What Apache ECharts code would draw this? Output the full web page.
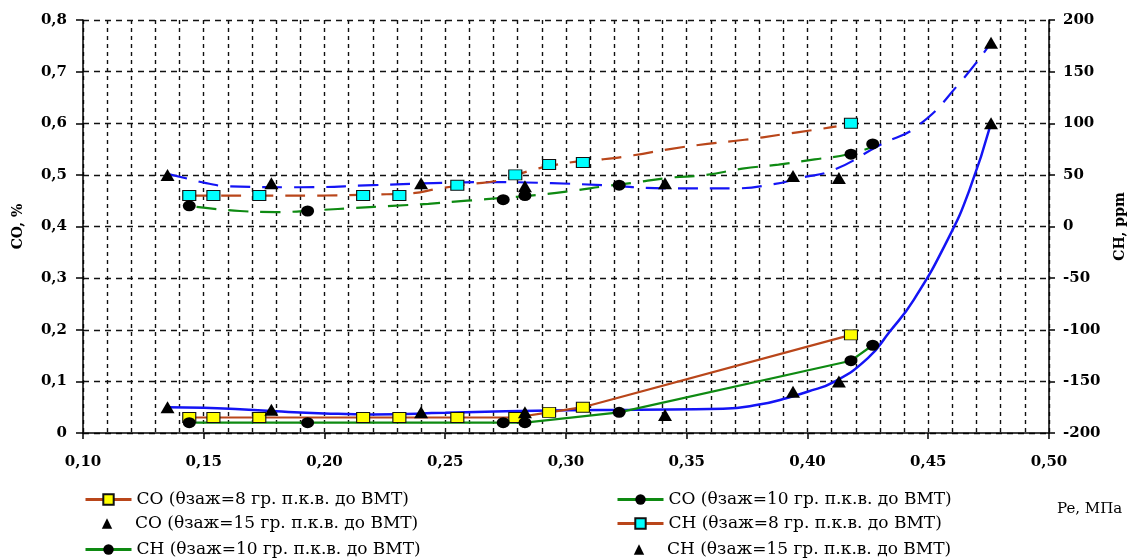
<!DOCTYPE html>
<html>
<head>
<meta charset="utf-8">
<script src="https://cdn.jsdelivr.net/npm/echarts@6/dist/echarts.min.js"></script>
<style>
html,body{margin:0;padding:0;background:#fff;}
#chart{width:1141px;height:559px;}
</style>
</head>
<body>
<div id="chart"></div>
<script>
// ---- data ----
const xTheta8 = [0.144, 0.154, 0.173, 0.216, 0.231, 0.255, 0.279, 0.293, 0.307, 0.418];
const co8 = [0.03, 0.03, 0.03, 0.03, 0.03, 0.03, 0.03, 0.04, 0.05, 0.19];
const ch8 = [30, 30, 30, 30, 30, 40, 50, 60, 62, 100];

const xTheta10 = [0.144, 0.193, 0.274, 0.283, 0.322, 0.418, 0.427];
const co10 = [0.02, 0.02, 0.02, 0.02, 0.04, 0.14, 0.17];
const ch10 = [20, 15, 26, 30, 40, 70, 80];

const xTheta15 = [0.135, 0.178, 0.240, 0.283, 0.341, 0.394, 0.413, 0.476];
const co15 = [0.05, 0.045, 0.04, 0.04, 0.035, 0.08, 0.10, 0.60];
const ch15 = [50, 42, 42, 39, 42, 49, 47, 178];

// trend lines
const coFit15X = [0.135, 0.150, 0.165, 0.180, 0.200, 0.220, 0.250, 0.275, 0.300, 0.330, 0.365, 0.380, 0.390, 0.400, 0.411, 0.425, 0.434, 0.444, 0.458, 0.467, 0.476];
const coFit15Y = [0.050, 0.049, 0.046, 0.042, 0.038, 0.036, 0.039, 0.042, 0.044, 0.045, 0.047, 0.055, 0.066, 0.080, 0.099, 0.145, 0.196, 0.258, 0.374, 0.470, 0.600];

const chFit15X = [0.135, 0.144, 0.151, 0.160, 0.190, 0.220, 0.245, 0.270, 0.294, 0.315, 0.342, 0.370, 0.386, 0.397, 0.411, 0.430, 0.446, 0.463, 0.476];
const chFit15Y = [51, 46, 42, 39, 38, 40, 42, 43, 42, 40, 37, 37, 41, 47, 55, 79, 98, 139, 178];

const chFit8X = [0.144, 0.170, 0.200, 0.220, 0.235, 0.248, 0.260, 0.273, 0.285, 0.294, 0.305, 0.315, 0.328, 0.343, 0.3585, 0.374, 0.389, 0.404, 0.412];
const chFit8Y = [30, 30, 30, 31, 32, 37, 41, 45, 54, 59, 63, 65, 69, 75, 80, 84, 89, 94, 97];

const chFit10X = [0.147, 0.165, 0.180, 0.198, 0.213, 0.228, 0.243, 0.259, 0.275, 0.290, 0.304, 0.316, 0.327, 0.342, 0.358, 0.373, 0.388, 0.403, 0.417, 0.429];
const chFit10Y = [19, 15, 14, 16, 18, 20, 22, 25, 28, 31, 35, 39, 42, 47, 50, 56, 60, 65, 70, 79];

const names = {
  co8: 'CO (θзаж=8 гр. п.к.в. до ВМТ)',
  co10: 'CO (θзаж=10 гр. п.к.в. до ВМТ)',
  co15: 'CO (θзаж=15 гр. п.к.в. до ВМТ)',
  ch8: 'CH (θзаж=8 гр. п.к.в. до ВМТ)',
  ch10: 'CH (θзаж=10 гр. п.к.в. до ВМТ)',
  ch15: 'CH (θзаж=15 гр. п.к.в. до ВМТ)'
};
const xTitle = 'Pe, МПа';

// ---- styling ----
const BROWN = '#B9461A', GREEN = '#0E8A12', BLUE = '#1414F5';
const FONT = 'DejaVu Serif';
const pairs = (xs, ys) => xs.map((x, i) => [x, ys[i]]);
const comma = (v, d) => v === 0 ? '0' : v.toFixed(d).replace('.', ',');

const hiddenLine = { width: 0, opacity: 0 };
const sqStyle = c => ({ color: c, borderColor: '#111', borderWidth: 1 });

const legendText = { fontFamily: FONT, fontSize: 17, color: '#000' };
function oneLegend(left, top, item) {
  return {
    left: left, top: top, padding: 0, orient: 'horizontal',
    itemWidth: 46, itemHeight: 13, textStyle: legendText, data: [item]
  };
}
const legLine = c => ({ width: 3, color: c, opacity: 1, type: 'solid' });

const chart = echarts.init(document.getElementById('chart'));
chart.setOption({
  animation: false,
  backgroundColor: '#fff',
  grid: { left: 83, right: 92, top: 20, bottom: 126 },
  xAxis: {
    type: 'value', min: 0.10, max: 0.50, interval: 0.05,
    axisLine: { onZero: false, lineStyle: { color: '#000', width: 1.5 } },
    axisTick: { show: true, length: 6, lineStyle: { color: '#000', width: 1.5 } },
    axisLabel: { formatter: v => comma(v, 2), margin: 22, color: '#000', fontFamily: FONT, fontWeight: 'bold', fontSize: 15 },
    splitLine: { show: true, lineStyle: { color: '#111', width: 1.4, type: [4, 4] } },
    minorTick: { show: false, splitNumber: 5 },
    minorSplitLine: { show: true, lineStyle: { color: '#111', width: 1.4, type: [4, 4] } }
  },
  yAxis: [{
    type: 'value', min: 0, max: 0.8, interval: 0.1,
    name: 'CO, %', nameLocation: 'middle', nameRotate: 90, nameGap: 58,
    nameTextStyle: { fontFamily: FONT, fontWeight: 'bold', fontSize: 14, color: '#000' },
    axisLine: { show: true, lineStyle: { color: '#000', width: 1.5 } },
    axisTick: { show: true, length: 7, lineStyle: { color: '#000', width: 1.5 } },
    axisLabel: { formatter: v => comma(v, 1), margin: 16, color: '#000', fontFamily: FONT, fontWeight: 'bold', fontSize: 15 },
    splitLine: { show: true, lineStyle: { color: '#111', width: 1.4, type: [6, 5] } }
  }, {
    type: 'value', min: -200, max: 200, interval: 50, position: 'right',
    name: 'CH, ppm', nameLocation: 'middle', nameRotate: 90, nameGap: 64,
    nameTextStyle: { fontFamily: FONT, fontWeight: 'bold', fontSize: 14, color: '#000' },
    axisLine: { show: true, lineStyle: { color: '#000', width: 1.5 } },
    axisTick: { show: true, length: 6, lineStyle: { color: '#000', width: 1.5 } },
    axisLabel: { margin: 14, color: '#000', fontFamily: FONT, fontWeight: 'bold', fontSize: 15 },
    splitLine: { show: false }
  }],
  legend: [
    oneLegend(84, 491, { name: names.co8, lineStyle: legLine(BROWN) }),
    oneLegend(84, 515, { name: names.co15, lineStyle: { width: 0 } }),
    oneLegend(84, 541, { name: names.ch10, lineStyle: legLine(GREEN) }),
    oneLegend(616, 491, { name: names.co10, lineStyle: legLine(GREEN) }),
    oneLegend(616, 515, { name: names.ch8, lineStyle: legLine(BROWN) }),
    oneLegend(616, 541, { name: names.ch15, lineStyle: { width: 0 } })
  ],
  graphic: [{
    type: 'text', left: 1057, top: 502,
    style: { text: xTitle, fontFamily: FONT, fontSize: 15, fill: '#000' }
  }],
  series: [
    // trend lines
    { type: 'line', yAxisIndex: 0, data: pairs(coFit15X, coFit15Y), smooth: true, symbol: 'none',
      lineStyle: { color: BLUE, width: 2.5 }, z: 2 },
    { type: 'line', yAxisIndex: 1, data: pairs(chFit15X, chFit15Y), smooth: true, symbol: 'none',
      lineStyle: { color: BLUE, width: 2.2, type: [20, 12] }, z: 2 },
    { type: 'line', yAxisIndex: 1, data: pairs(chFit8X, chFit8Y), smooth: true, symbol: 'none',
      lineStyle: { color: BROWN, width: 2.2, type: [20, 12] }, z: 2 },
    { type: 'line', yAxisIndex: 1, data: pairs(chFit10X, chFit10Y), smooth: true, symbol: 'none',
      lineStyle: { color: GREEN, width: 2.2, type: [20, 12] }, z: 2 },
    // measured points
    { name: names.co8, type: 'line', yAxisIndex: 0, data: pairs(xTheta8, co8),
      symbol: 'rect', symbolSize: [13, 10], lineStyle: { color: BROWN, width: 2.2 },
      itemStyle: sqStyle('#FFFF00'), z: 4 },
    { name: names.co10, type: 'line', yAxisIndex: 0, data: pairs(xTheta10, co10),
      symbol: 'circle', symbolSize: [13, 11], lineStyle: { color: GREEN, width: 2.2 },
      itemStyle: { color: '#000' }, z: 4 },
    { name: names.co15, type: 'line', yAxisIndex: 0, data: pairs(xTheta15, co15),
      symbol: 'triangle', symbolSize: [14, 12], lineStyle: hiddenLine,
      itemStyle: { color: '#000' }, z: 4 },
    { name: names.ch8, type: 'line', yAxisIndex: 1, data: pairs(xTheta8, ch8),
      symbol: 'rect', symbolSize: [13, 10], lineStyle: hiddenLine,
      itemStyle: sqStyle('#00FFFF'), z: 4 },
    { name: names.ch10, type: 'line', yAxisIndex: 1, data: pairs(xTheta10, ch10),
      symbol: 'circle', symbolSize: [13, 11], lineStyle: hiddenLine,
      itemStyle: { color: '#000' }, z: 4 },
    { name: names.ch15, type: 'line', yAxisIndex: 1, data: pairs(xTheta15, ch15),
      symbol: 'triangle', symbolSize: [14, 12], lineStyle: hiddenLine,
      itemStyle: { color: '#000' }, z: 4 }
  ]
});
</script>
</body>
</html>
